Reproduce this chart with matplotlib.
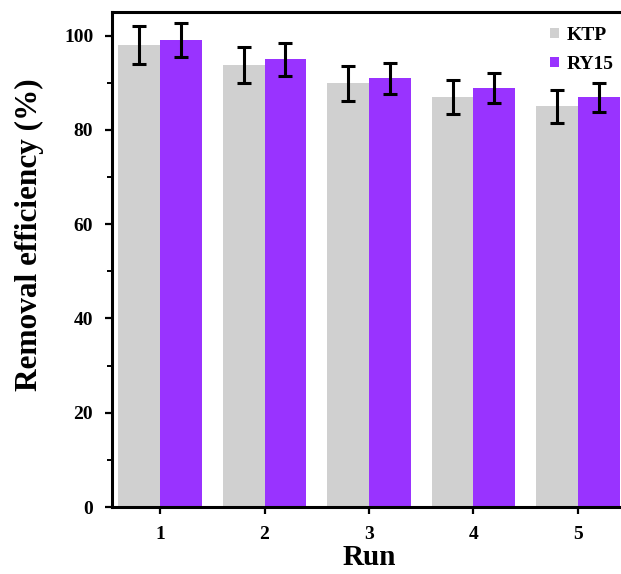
import numpy as np
import matplotlib
matplotlib.use("Agg")
import matplotlib.pyplot as plt
from matplotlib.ticker import MultipleLocator

runs=np.array([1,2,3,4,5])
ktp=[98.0,93.8,89.9,86.9,85.0]
ktp_err=[4.1,3.8,3.7,3.6,3.5]
ry15=[99.0,95.0,90.9,88.8,86.9]
ry15_err=[3.6,3.5,3.3,3.2,3.1]

plt.rcParams['font.family']=['Liberation Serif','DejaVu Serif']
plt.rcParams['font.weight']='bold'

fig=plt.figure(figsize=(6.21,5.74),dpi=100)
ax=fig.add_axes([112/621,(574-507)/574,(626-112)/621,(507-12)/574])

w=0.4
ekw=dict(elinewidth=2.2,capthick=2.2,capsize=5,ecolor="black")
ax.bar(runs-w/2,ktp,w,yerr=ktp_err,color="#d0d0d0",label="KTP",error_kw=ekw)
ax.bar(runs+w/2,ry15,w,yerr=ry15_err,color="#9933ff",label="RY15",error_kw=ekw)

ax.set_xlim(0.54,5.46)
ax.set_ylim(0,105)
ax.set_xticks(runs)
ax.yaxis.set_major_locator(MultipleLocator(20))
ax.yaxis.set_minor_locator(MultipleLocator(10))
ax.tick_params(axis="both",which="major",direction="out",length=5,width=1.6,labelsize=14,pad=8.5)
ax.tick_params(axis="y",which="minor",direction="out",length=3.5,width=1.4)
for s in ax.spines.values():
    s.set_linewidth(2.2)

# axis titles placed as in the original figure
fig.text(29/621,1-235/574,"Removal efficiency (%)",rotation=90,ha="center",va="center",
         fontsize=22.5,fontweight="bold")
fig.text(369/621,1-565/574,"Run",ha="center",va="baseline",fontsize=21,fontweight="bold")

ax.legend(loc="upper right",bbox_to_anchor=(614/621,1-27/574),bbox_transform=fig.transFigure,
          frameon=False,fontsize=14,handlelength=0.45,handleheight=0.45,
          handletextpad=0.4,labelspacing=0.6,borderaxespad=0,borderpad=0)

fig.savefig("out.png",dpi=100)
